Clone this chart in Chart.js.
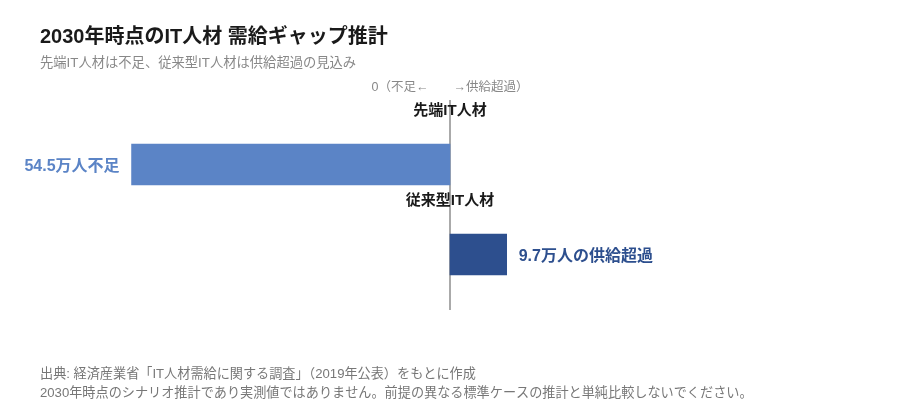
<!DOCTYPE html>
<html lang="ja">
<head>
<meta charset="utf-8">
<script src="https://cdn.jsdelivr.net/npm/chart.js@4/dist/chart.umd.min.js"></script>
<style>
  html, body { margin: 0; padding: 0; background: #ffffff; }
  #wrap { position: relative; width: 900px; height: 420px; }
  canvas { display: block; }
</style>
</head>
<body>
<div id="wrap"><canvas id="c" width="900" height="420"></canvas></div>
<script>
// ---- data ----
const titleText = '2030年時点のIT人材 需給ギャップ推計';
const subtitleText = '先端IT人材は不足、従来型IT人材は供給超過の見込み';
const axisNote = '0（不足←　　→供給超過）';
const categories = ['先端IT人材', '従来型IT人材'];
const gapValues = [-54.5, 9.7]; // 万人 (negative = shortage, positive = oversupply)
const footerLines = [
  '出典: 経済産業省「IT人材需給に関する調査」（2019年公表）をもとに作成',
  '2030年時点のシナリオ推計であり実測値ではありません。前提の異なる標準ケースの推計と単純比較しないでください。'
];

function valueLabel(v) {
  return v < 0 ? (Math.abs(v) + '万人不足') : (v + '万人の供給超過');
}

const FONT = '"Liberation Sans", "Noto Sans CJK JP", sans-serif';
const barColors = ['#5b84c6', '#2d4f8e'];

const decor = {
  id: 'decor',
  beforeDatasetsDraw(chart) {
    const ctx = chart.ctx;
    const x0 = chart.scales.x.getPixelForValue(0);
    ctx.save();
    ctx.strokeStyle = '#aaaaaa';
    ctx.lineWidth = 2;
    ctx.beginPath();
    ctx.moveTo(x0, 100);
    ctx.lineTo(x0, 310);
    ctx.stroke();
    ctx.restore();
  },
  afterDraw(chart) {
    const ctx = chart.ctx;
    const x0 = chart.scales.x.getPixelForValue(0);
    const meta = chart.getDatasetMeta(0);
    ctx.save();
    // title
    ctx.textBaseline = 'alphabetic';
    ctx.textAlign = 'left';
    ctx.fillStyle = '#1a1a1a';
    ctx.font = 'bold 20px ' + FONT;
    ctx.fillText(titleText, 40, 43);
    ctx.fillStyle = '#888888';
    ctx.font = '13.3px ' + FONT;
    ctx.fillText(subtitleText, 40, 67);
    // axis note
    ctx.textAlign = 'center';
    ctx.font = '12.5px ' + FONT;
    ctx.fillStyle = '#888888';
    ctx.fillText(axisNote, x0, 91);
    // category labels and value labels
    ctx.textBaseline = 'middle';
    meta.data.forEach((bar, i) => {
      ctx.textAlign = 'center';
      ctx.font = 'bold 15px ' + FONT;
      ctx.fillStyle = '#1a1a1a';
      ctx.fillText(categories[i], x0, bar.y - 54);
      const v = gapValues[i];
      ctx.font = 'bold 16px ' + FONT;
      ctx.fillStyle = barColors[i];
      if (v < 0) {
        ctx.textAlign = 'right';
        ctx.fillText(valueLabel(v), bar.x - 12, bar.y + 2);
      } else {
        ctx.textAlign = 'left';
        ctx.fillText(valueLabel(v), bar.x + 12, bar.y + 2);
      }
    });
    // footer
    ctx.textBaseline = 'alphabetic';
    ctx.textAlign = 'left';
    ctx.font = '13.15px ' + FONT;
    ctx.fillStyle = '#777777';
    footerLines.forEach((t, i) => ctx.fillText(t, 40, 378 + i * 19));
    ctx.restore();
  }
};

new Chart(document.getElementById('c'), {
  type: 'bar',
  data: {
    labels: categories,
    datasets: [{
      data: gapValues,
      backgroundColor: barColors,
      borderWidth: 0,
      barThickness: 41
    }]
  },
  options: {
    indexAxis: 'y',
    responsive: false,
    animation: false,
    devicePixelRatio: 1,
    layout: { padding: { left: 41, right: 41, top: 119.5, bottom: 120.5 } },
    scales: {
      x: { display: false, min: -70, max: 70 },
      y: { display: false, offset: true }
    },
    plugins: {
      legend: { display: false },
      tooltip: { enabled: false },
      title: { display: false }
    }
  },
  plugins: [decor]
});
</script>
</body>
</html>
